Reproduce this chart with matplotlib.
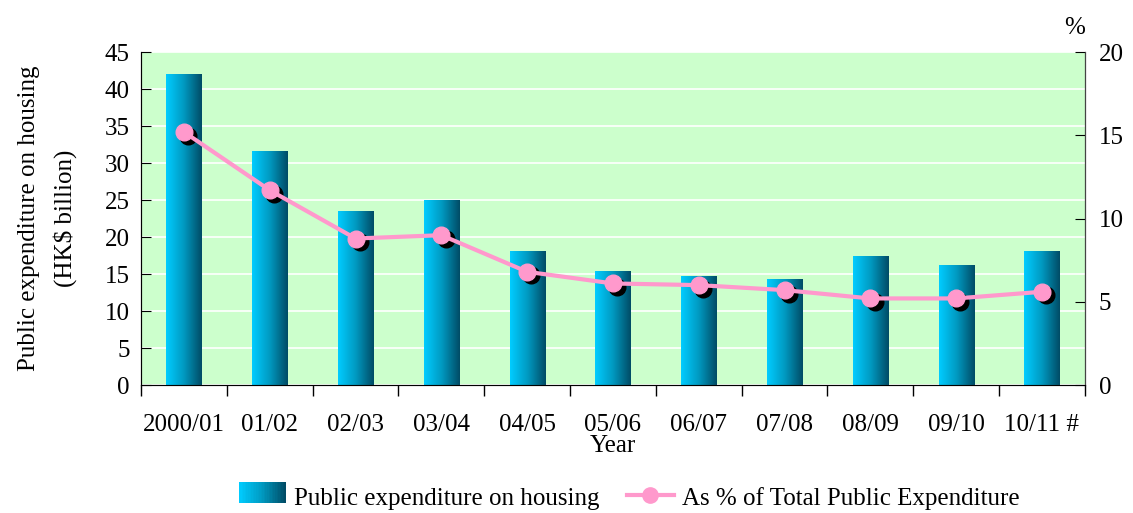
import numpy as np
import matplotlib.pyplot as plt
from matplotlib.patches import Rectangle
from matplotlib.colors import LinearSegmentedColormap
from matplotlib.legend_handler import HandlerBase
from matplotlib.lines import Line2D

plt.rcParams['font.family'] = ['Liberation Serif', 'DejaVu Serif']

years = ['2000/01', '01/02', '02/03', '03/04', '04/05', '05/06',
         '06/07', '07/08', '08/09', '09/10', '10/11 #']
expenditure = [42.0, 31.5, 23.5, 24.9, 18.0, 15.4, 14.7, 14.3, 17.4, 16.2, 18.0]
pct_total = [15.2, 11.7, 8.8, 9.0, 6.8, 6.1, 6.0, 5.7, 5.2, 5.2, 5.6]

cmap = LinearSegmentedColormap.from_list('bar', ['#00CCFF', '#0099C0', '#004C66'])
grad = np.linspace(0, 1, 64).reshape(1, -1)
fs = 18

fig = plt.figure(figsize=(11.33, 5.13), dpi=100)
ax = fig.add_axes([0.1245, 0.2495, 0.833, 0.649])
ax.set_facecolor('#CCFFCC')

x = np.arange(len(years))
w = 0.41
bars = ax.bar(x, expenditure, width=w, color='none', zorder=2)
for b in bars:
    x0, y0 = b.get_x(), b.get_y()
    ax.imshow(grad, cmap=cmap, aspect='auto', zorder=2,
              extent=[x0, x0 + b.get_width(), y0, y0 + b.get_height()])
ax.set_xlim(-0.5, len(years) - 0.5)
ax.set_ylim(0, 45)
ax.set_yticks(np.arange(0, 46, 5))
ax.yaxis.grid(True, color='white', lw=1.2, zorder=1)
ax.set_axisbelow(True)
ax.set_xticks(x)
ax.set_xticklabels(years)
ax.set_xticks(np.arange(-0.5, len(years), 1), minor=True)
ax.tick_params(axis='x', which='major', length=0, pad=21, labelsize=fs)
ax.tick_params(axis='x', which='minor', length=8, direction='out', width=1)
ax.tick_params(axis='y', direction='in', length=7, labelsize=fs, pad=8)
ax.set_ylabel('Public expenditure on housing\n(HK\\$ billion)', fontsize=fs,
              linespacing=1.7, labelpad=20)
ax.set_xlabel('Year', fontsize=fs, va='center')
ax.xaxis.set_label_coords(0.5, -0.183)
ax.spines['top'].set_visible(False)
ax.spines['bottom'].set_color('#777777')
ax.spines['left'].set_color('#444444')

ax2 = ax.twinx()
ax2.set_ylim(0, 20)
ax2.set_yticks(np.arange(0, 21, 5))
ax2.tick_params(axis='y', direction='in', length=7, labelsize=fs, pad=10)
ax2.spines['top'].set_visible(False)
ax2.spines['right'].set_color('#444444')
ax2.plot(x + 0.05, np.array(pct_total) - 0.22, 'o', color='black', ms=12, zorder=3)
ax2.plot(x, pct_total, '-o', color='#FF99CC', lw=3, ms=12, zorder=4)
ax2.text(1.0, 1.04, '%', transform=ax2.transAxes, fontsize=fs, ha='right', va='bottom')


class GradientHandler(HandlerBase):
    def create_artists(self, legend, orig, xd, yd, width, height, fontsize, trans):
        n = 30
        arts = []
        for i in range(n):
            r = Rectangle((xd + width * i / n, yd), width / n + 0.3, height,
                          facecolor=cmap(i / (n - 1)), edgecolor='none', transform=trans)
            arts.append(r)
        return arts


bar_handle = Rectangle((0, 0), 1, 1)
line_handle = Line2D([], [], color='#FF99CC', lw=3, marker='o', ms=11)
fig.legend([bar_handle, line_handle],
           ['Public expenditure on housing', 'As % of Total Public Expenditure'],
           handler_map={Rectangle: GradientHandler()},
           loc='center', bbox_to_anchor=(0.555, 0.03), ncol=2, frameon=False,
           fontsize=fs, handlelength=1.9, handleheight=0.9, columnspacing=1.1,
           handletextpad=0.3)

fig.savefig('out.png', dpi=100)
